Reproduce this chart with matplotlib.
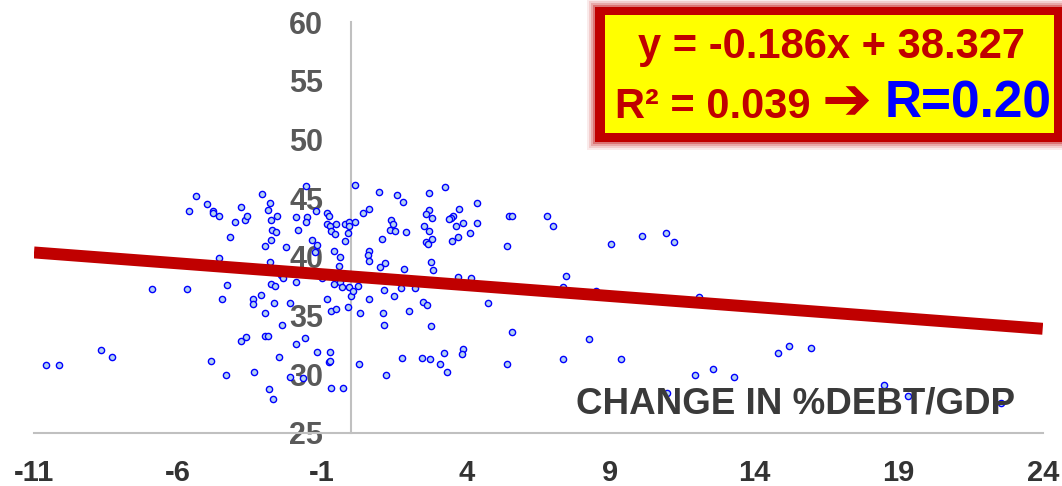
import matplotlib
matplotlib.use("Agg")
import matplotlib.pyplot as plt
from matplotlib.patches import Rectangle

plt.rcParams['font.family'] = ['Liberation Sans', 'DejaVu Sans']
plt.rcParams['font.weight'] = 'bold'
plt.rcParams['axes.unicode_minus'] = False

# change in %debt/GDP (x) vs value (y)
debt_change = [
    -10.58, -10.14, -8.67, -8.28, -6.89, -5.68, -5.62, -5.39, -5.01, -4.78,
    -4.78, -4.59, -4.57, -4.85, -4.48, -4.34, -4.29, -4.20, -4.01, -3.83,
    -3.68, -3.61, -3.81, -3.64, -3.40, -3.39, -3.37, -3.13, -3.08, -2.97,
    -2.98, -2.98, -2.89, -2.88, -2.81, -2.77, -2.73, -2.58, -2.59, -2.79,
    -2.81, -2.79, -2.64, -2.67, -2.85, -2.70, -2.50, -2.39, -2.43, -2.35,
    -2.26, -2.12, -2.12, -1.92, -1.91, -1.84, -1.90, -1.68, -1.59, -1.56,
    -1.54, -1.57, -1.35, -1.22, -1.18, -1.25, -1.01, -0.84, -0.83, -0.75,
    -0.84, -0.73, -0.69, -0.57, -0.51, -0.58, -0.39, -0.42, -0.22, -0.21,
    -0.08, -0.06, -0.09, 0.15, 0.15, -0.58, -0.38, -0.32, -0.69, -0.52,
    -0.11, -0.07, -0.01, 0.08, 0.25, -0.77, -0.73, -0.74, -1.18, -0.68,
    -0.27, 0.29, 0.30, 0.63, 0.61, 0.59, 0.61, 0.41, 0.61, 0.98,
    1.08, 1.01, 1.18, 1.16, 1.12, 1.16, 1.20, 1.39, 1.45, 1.36,
    1.52, 1.50, 1.59, 1.72,
    2.72, 3.26, 1.79, 4.36, 2.70, 2.61, 2.81, 3.53, 3.46, 3.40,
    3.75, 4.36, 3.89, 3.64, 1.91, 2.54, 2.70, 4.12, 3.70, 3.49,
    2.59, 2.66, 2.82, 5.40, 5.47, 5.59, 1.84, 2.77, 2.86, 3.70,
    4.15, 2.22, 2.49, 2.65, 2.01, 4.76, 2.78, 5.60, 1.78, 2.45,
    2.75, 3.23, 3.88, 3.86, 3.09, 3.32, 5.40,
    6.81, 7.02, 9.03, 10.11, 10.92, 11.20, 7.45, 7.37, 8.50, 12.09,
    8.25, 7.35, 9.38, 11.94, 10.95, 12.57, 13.30, 14.82, 15.20, 15.95,
    18.50, 19.33, 22.54,
]
values = [
    30.78, 30.75, 32.06, 31.43, 37.27, 37.25, 43.93, 45.18, 44.47, 43.87,
    43.73, 43.52, 39.91, 31.09, 36.41, 29.93, 37.61, 41.68, 42.96, 44.29,
    43.18, 43.50, 32.85, 33.17, 36.41, 35.99, 30.18, 36.75, 45.35, 40.88,
    35.19, 33.25, 33.25, 43.95, 44.61, 43.18, 42.30, 43.47, 42.13, 41.45,
    39.60, 37.69, 37.52, 36.05, 28.70, 27.88, 31.43, 34.19, 38.46, 38.21,
    40.85, 36.10, 29.78, 37.81, 43.39, 42.30, 32.55, 29.64, 33.11, 46.06,
    43.41, 42.96, 41.42, 43.87, 41.02, 40.40, 38.18, 36.41, 43.73, 43.52,
    42.76, 42.59, 42.22, 41.94, 42.76, 40.51, 39.97, 39.20, 41.31, 42.84,
    43.01, 42.65, 42.02, 43.01, 46.12, 37.67, 37.89, 37.46, 35.42, 35.53,
    35.76, 37.44, 36.67, 37.10, 37.52, 31.06, 31.15, 31.86, 31.91, 28.82,
    28.84, 30.84, 35.19, 36.36, 40.48, 40.17, 39.63, 43.73, 44.07, 45.55,
    41.51, 39.12, 39.46, 37.18, 35.24, 34.19, 29.95, 43.16, 42.84, 42.25,
    42.19, 36.70, 45.23, 37.35,
    45.44, 45.97, 44.69, 44.61, 43.95, 43.61, 43.33, 43.50, 43.33, 43.22,
    44.07, 42.88, 42.90, 42.59, 42.11, 42.59, 42.22, 42.05, 41.71, 41.31,
    41.28, 41.13, 41.51, 40.96, 43.50, 43.44, 39.00, 39.57, 38.86, 38.27,
    38.21, 37.33, 36.13, 35.90, 35.39, 36.05, 34.11, 33.63, 31.35, 31.35,
    31.26, 31.78, 32.17, 31.69, 30.84, 30.18, 30.84,
    43.50, 42.65, 41.11, 41.76, 42.07, 41.28, 38.38, 37.41, 37.12, 36.56,
    33.00, 31.29, 31.27, 29.95, 28.41, 30.41, 29.76, 31.80, 32.37, 32.20,
    29.07, 28.16, 27.56,
]

slope = -0.186
intercept = 38.327
x_ticks = [-11, -6, -1, 4, 9, 14, 19, 24]
y_ticks = [25, 30, 35, 40, 45, 50, 55, 60]

W, H = 1062, 486
fig = plt.figure(figsize=(W / 100, H / 100), dpi=100)
ax = fig.add_axes([34 / W, 1 - 432.7 / H, 1008.7 / W, 410.4 / H])

ax.scatter(debt_change, values, s=20, facecolor='#b4d2f0', edgecolor='#0000ff',
           linewidths=1.0, zorder=3, clip_on=False)

trend_x = [x_ticks[0], x_ticks[-1]]
trend_y = [slope * v + intercept for v in trend_x]
ax.plot(trend_x, trend_y, color='#c00000', lw=8.6, solid_capstyle='butt', zorder=4)

ax.set_xlim(x_ticks[0], x_ticks[-1])
ax.set_ylim(y_ticks[0], y_ticks[-1])
ax.set_xticks(x_ticks)
ax.set_yticks(y_ticks)
ax.spines['top'].set_visible(False)
ax.spines['right'].set_visible(False)
ax.spines['left'].set_position(('data', 0))
for s in ['left', 'bottom']:
    ax.spines[s].set_color('#c0c0c0')
    ax.spines[s].set_linewidth(1.5)
ax.tick_params(axis='both', length=0)
ax.tick_params(axis='x', pad=19, labelsize=21, labelcolor='#333333')
ax.tick_params(axis='y', pad=20, labelsize=22, labelcolor='#595959')
for lab in ax.get_xticklabels() + ax.get_yticklabels():
    lab.set_fontweight('bold')

ax.text(796 / W, 1 - 413 / H, 'CHANGE IN %DEBT/GDP', transform=fig.transFigure,
        ha='center', va='baseline', fontsize=26.5, fontweight='bold', color='#3a3a3a',
        zorder=5)


def fig_rect(x0, y0, x1, y1, **kw):
    r = Rectangle((x0 / W, 1 - y1 / H), (x1 - x0) / W, (y1 - y0) / H,
                  transform=fig.transFigure, **kw)
    fig.add_artist(r)


# soft glow round the box
for grow, a in [(8, 0.08), (6, 0.12), (4, 0.18), (2, 0.3)]:
    fig_rect(595 - grow, 7 - grow, 1070, 142 + grow, facecolor='#c00000',
             edgecolor='none', alpha=a, zorder=6)
fig_rect(595, 7, 1070, 142, facecolor='#c00000', edgecolor='none', zorder=7)
fig_rect(605, 15, 1054, 133, facecolor='#ffff00', edgecolor='none', zorder=8)

fig.text(831.7 / W, 1 - 58 / H, 'y = -0.186x + 38.327', ha='center', va='baseline',
         fontsize=30, fontweight='bold', color='#c00000', zorder=9)
fig.text(615 / W, 1 - 118 / H, 'R² = 0.039', ha='left', va='baseline',
         fontsize=30, fontweight='bold', color='#c00000', zorder=9)
fig.text(847 / W, 1 - 103 / H, '➔', ha='center', va='center',
         fontsize=43, fontweight='bold', color='#c00000', zorder=9,
         family=['DejaVu Sans'])
fig.text(885 / W, 1 - 118 / H, 'R=0.20', ha='left', va='baseline',
         fontsize=37, fontweight='bold', color='#0000ff', zorder=9)

fig.savefig('out.png', dpi=100)
